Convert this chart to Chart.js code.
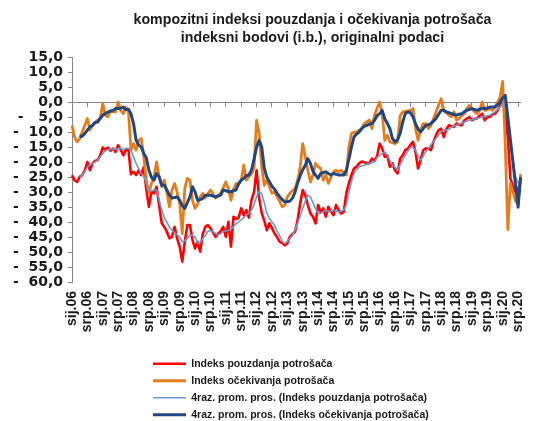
<!DOCTYPE html>
<html><head><meta charset="utf-8">
<script src="https://cdn.jsdelivr.net/npm/chart.js@4.4.0/dist/chart.umd.min.js"></script>
<style>html,body{margin:0;padding:0;background:#fff}canvas{display:block}</style>
</head><body>
<canvas id="c" width="544" height="421"></canvas>
<script>
const monthNames = ['sij','velj','ožu','tra','svi','lip','srp','kol','ruj','lis','stu','pro'];
const years = [2006,2007,2008,2009,2010,2011,2012,2013,2014,2015,2016,2017,2018,2019,2020];
const monthsIn2020 = 8;
const categories = [];
years.forEach(y => {
  const n = (y === 2020) ? monthsIn2020 : 12;
  for (let m = 0; m < n; m++) categories.push(monthNames[m] + '.' + String(y).slice(2));
});

const titleLines = ['kompozitni indeksi pouzdanja i očekivanja potrošača', 'indeksni bodovi (i.b.), originalni podaci'];
const seriesNames = ['Indeks pouzdanja potrošača', 'Indeks očekivanja potrošača',
  '4raz. prom. pros. (Indeks pouzdanja potrošača)', '4raz. prom. pros. (Indeks očekivanja potrošača)'];
const yMin = -60, yMax = 15, yStep = 5;

const pouzdanje = [
-24.3,-26.0,-26.6,-24.9,-24.3,-22.7,-19.9,-22.7,-20.4,-19.6,-19.3,-17.7,
-15.1,-16.0,-15.1,-16.2,-15.4,-16.6,-14.3,-15.8,-17.7,-16.0,-15.8,-24.0,
-23.2,-24.3,-22.7,-24.3,-21.6,-29.3,-34.9,-29.9,-30.4,-28.2,-34.5,-40.4,
-41.6,-43.2,-45.4,-44.9,-41.6,-45.4,-48.2,-53.2,-46.6,-41.0,-41.0,-46.0,
-48.8,-46.6,-49.9,-44.0,-41.6,-41.0,-42.0,-43.5,-44.9,-43.8,-43.0,-41.6,
-44.9,-39.9,-48.2,-38.2,-39.0,-38.5,-35.4,-37.7,-36.0,-38.5,-32.7,-30.0,
-22.7,-32.0,-37.0,-39.5,-42.7,-40.4,-42.0,-43.8,-45.0,-46.6,-47.0,-47.7,
-47.1,-44.9,-44.0,-43.2,-39.3,-33.8,-29.3,-31.0,-34.3,-37.1,-38.2,-40.4,
-34.3,-36.6,-35.4,-38.2,-34.9,-36.5,-37.7,-34.3,-36.0,-37.1,-36.6,-30.4,
-27.0,-24.3,-22.1,-21.5,-20.4,-19.8,-20.0,-20.4,-20.4,-18.8,-19.5,-18.0,
-13.8,-15.5,-18.2,-17.7,-21.6,-20.4,-22.7,-23.8,-18.8,-17.7,-16.0,-15.5,
-14.3,-13.2,-16.6,-22.1,-19.3,-16.0,-15.4,-15.5,-16.0,-13.2,-11.0,-9.3,
-8.8,-11.6,-9.0,-7.7,-8.0,-8.2,-7.1,-7.5,-7.7,-6.0,-5.5,-4.9,
-6.0,-5.5,-5.4,-4.5,-3.8,-6.0,-5.0,-4.9,-4.0,-3.8,-2.7,-1.0,
0.9,-4.0,-11.6,-25.4,-28.0,-30.0,-29.0,-26.0
];
const ocekivanja = [
-7.7,-11.6,-13.2,-12.1,-9.9,-7.7,-5.4,-9.3,-7.7,-6.6,-6.0,-5.4,
-0.4,-4.3,-4.9,-2.7,-3.2,-3.2,0.1,-2.7,-3.8,-1.6,-2.7,-16.0,
-13.8,-16.0,-12.7,-12.1,-18.2,-26.0,-30.4,-27.0,-24.9,-19.9,-24.9,-28.2,
-26.0,-30.0,-34.9,-29.3,-27.1,-30.0,-33.8,-43.8,-28.8,-25.4,-26.0,-32.7,
-35.4,-34.0,-31.6,-30.4,-32.0,-30.5,-29.3,-30.5,-32.0,-31.0,-30.4,-28.5,
-26.6,-28.8,-32.7,-29.0,-27.1,-27.5,-26.0,-21.0,-26.0,-24.9,-23.8,-22.0,
-6.0,-10.4,-21.6,-27.7,-26.0,-28.2,-30.4,-29.9,-31.6,-33.0,-34.9,-34.3,
-31.6,-30.4,-29.5,-28.8,-26.0,-21.6,-13.8,-18.2,-22.7,-26.6,-24.3,-20.4,
-21.5,-22.1,-26.0,-24.3,-27.1,-25.0,-23.2,-22.7,-23.2,-22.7,-23.5,-24.3,
-14.9,-10.4,-10.0,-9.9,-9.3,-8.8,-7.1,-6.5,-6.0,-8.8,-4.3,-2.0,
0.1,-3.8,-12.7,-11.0,-13.2,-13.5,-13.8,-13.2,-4.5,-3.2,-3.0,-2.9,
-2.7,-2.1,-8.8,-12.7,-9.0,-7.1,-7.1,-8.8,-7.7,-5.5,-3.2,-1.0,
1.2,-2.7,-3.5,-4.2,-4.9,-3.2,-6.0,-5.4,-4.5,-3.8,-2.1,-1.0,
-2.2,-3.2,-3.8,-2.7,0.1,-2.7,-2.5,-2.1,-2.7,-1.6,0.0,1.8,
7.0,-14.0,-42.5,-27.0,-30.0,-33.0,-34.0,-24.0
];
const pouzdanjeMA = [
null,null,null,-24.9,-24.3,-23.2,-21.6,-21.0,-20.4,-19.9,-19.3,-18.2,
-17.1,-16.2,-15.8,-15.8,-15.4,-15.8,-15.4,-15.4,-15.8,-15.4,-15.4,-16.0,
-18.2,-20.4,-22.1,-23.8,-24.9,-27.1,-29.3,-29.6,-29.3,-29.3,-32.7,-36.0,
-38.5,-40.0,-41.6,-42.7,-43.5,-44.3,-45.0,-46.6,-46.2,-45.5,-44.3,-44.5,
-44.9,-47.1,-46.8,-45.5,-44.5,-43.0,-42.9,-43.2,-43.8,-44.3,-43.8,-43.2,
-43.0,-42.7,-42.3,-41.5,-40.5,-40.0,-39.3,-38.5,-37.7,-37.1,-36.0,-34.3,
-31.5,-29.8,-30.4,-33.5,-37.0,-38.8,-40.0,-41.0,-43.0,-44.5,-46.4,-47.1,
-46.5,-45.5,-44.5,-42.5,-40.4,-38.0,-35.5,-33.0,-31.0,-31.6,-33.5,-35.5,
-37.1,-37.1,-36.5,-36.0,-36.6,-36.3,-36.0,-36.3,-36.6,-36.3,-36.0,-34.3,
-30.0,-26.5,-23.8,-22.5,-21.6,-21.3,-21.0,-20.7,-20.4,-20.2,-19.9,-18.5,
-17.7,-17.0,-16.6,-17.5,-19.5,-21.0,-21.6,-22.7,-20.8,-19.2,-17.7,-16.3,
-15.2,-15.0,-16.0,-18.0,-19.3,-18.0,-16.5,-15.4,-14.3,-13.2,-12.0,-11.0,
-9.8,-9.3,-9.3,-9.0,-8.4,-8.0,-7.7,-7.3,-7.0,-6.6,-6.3,-6.0,
-5.8,-5.6,-5.4,-5.2,-4.9,-4.7,-4.5,-4.3,-3.8,-3.2,-2.4,-1.6,
-0.3,-1.5,-6.0,-12.0,-19.0,-25.0,-27.0,-27.0
];
const ocekivanjaMA = [
null,null,null,-11.6,-11.3,-10.4,-9.3,-8.2,-7.7,-6.8,-6.6,-5.4,
-4.3,-3.8,-3.2,-3.0,-2.7,-2.1,-2.1,-2.0,-1.6,-2.5,-2.3,-3.8,
-7.1,-12.7,-14.3,-14.9,-17.1,-18.5,-22.7,-25.0,-26.0,-23.8,-24.9,-27.7,
-27.7,-29.3,-31.0,-32.0,-31.8,-31.6,-32.7,-34.5,-35.4,-33.5,-31.6,-28.2,
-29.9,-32.7,-32.5,-32.1,-31.0,-31.0,-31.0,-31.3,-31.6,-31.3,-31.0,-29.3,
-29.5,-29.9,-29.9,-29.5,-29.3,-27.1,-26.0,-25.4,-24.5,-24.3,-22.7,-19.0,
-15.0,-12.7,-14.9,-22.0,-25.0,-26.5,-28.0,-29.0,-30.4,-31.5,-32.5,-33.2,
-33.2,-33.0,-32.0,-30.0,-27.0,-24.5,-22.5,-21.0,-18.8,-20.4,-23.0,-24.3,
-25.4,-23.8,-23.5,-23.2,-23.8,-24.3,-23.8,-24.0,-24.3,-24.3,-24.3,-22.7,
-19.0,-15.0,-11.6,-10.6,-10.0,-8.8,-8.0,-7.7,-7.3,-7.1,-6.0,-4.5,
-3.8,-2.7,-5.5,-7.0,-8.8,-12.1,-13.2,-12.5,-10.4,-6.6,-3.8,-3.2,
-3.5,-4.9,-7.1,-9.0,-9.9,-8.8,-7.7,-7.5,-7.1,-6.3,-5.4,-4.0,
-2.7,-2.7,-3.2,-3.5,-3.8,-4.1,-4.3,-4.0,-3.8,-3.2,-2.7,-2.4,
-2.1,-2.4,-2.7,-2.3,-2.1,-2.1,-1.9,-1.6,-1.6,-1.6,-0.8,0.1,
1.5,2.3,-5.0,-12.5,-20.0,-27.5,-35.0,-25.0
];

const axisGray = '#868686';
const textColor = '#1a1a1a';

function yLabel(v) {
  const a = Math.abs(v).toFixed(1).replace('.', ',');
  if (v < 0) return '-' + (Math.abs(v) < 10 ? '   ' : '  ') + a;
  return a;
}

const placeBoxes = {
  id: 'placeBoxes',
  afterLayout(chart) {
    const lg = chart.legend;
    if (lg) {
      const pad = lg.options.labels.padding;
      lg.left = 153 - pad; lg.width = 400; lg.right = lg.left + 400;
      lg.top = 364 - pad - 5.5; lg.height = 140; lg.bottom = lg.top + 140;
    }
    const t = chart.titleBlock;
    if (t) {
      t.left = 81; t.right = 544; t.width = 463;
    }
  }
};

const common = { pointRadius: 0, pointHoverRadius: 0, tension: 0, fill: false, borderJoinStyle: 'round', spanGaps: false };

new Chart(document.getElementById('c'), {
  type: 'line',
  data: {
    labels: categories,
    datasets: [
      Object.assign({ label: seriesNames[0], data: pouzdanje, borderColor: '#FF0000', backgroundColor: '#FF0000', borderWidth: 2.6, order: 4 }, common),
      Object.assign({ label: seriesNames[1], data: ocekivanja, borderColor: '#E47D1E', backgroundColor: '#E47D1E', borderWidth: 2.8, order: 3 }, common),
      Object.assign({ label: seriesNames[2], data: pouzdanjeMA, borderColor: '#6E98D0', backgroundColor: '#6E98D0', borderWidth: 1.6, order: 2 }, common),
      Object.assign({ label: seriesNames[3], data: ocekivanjaMA, borderColor: '#22467F', backgroundColor: '#22467F', borderWidth: 3, order: 1 }, common)
    ]
  },
  plugins: [placeBoxes],
  options: {
    responsive: false,
    animation: false,
    devicePixelRatio: 1,
    layout: { padding: { left: 0, right: 4, top: 0, bottom: 79 } },
    plugins: {
      title: {
        display: true, text: titleLines, fullSize: false, color: textColor,
        font: { family: "'Liberation Sans', Arial, sans-serif", size: 14.2, weight: 'bold', lineHeight: 1.28 },
        padding: { top: 11, bottom: 10 }
      },
      legend: {
        position: 'chartArea', align: 'start',
        labels: {
          usePointStyle: true, pointStyle: 'line', pointStyleWidth: 33,
          color: textColor, padding: 6.5,
          font: { family: "'Liberation Sans', Arial, sans-serif", size: 10.5, weight: 'bold' },
          sort: (a, b) => a.datasetIndex - b.datasetIndex
        }
      },
      tooltip: { enabled: false }
    },
    scales: {
      x: {
        type: 'category', position: 'bottom', offset: false,
        grid: { display: false, drawTicks: false },
        border: { display: false },
        ticks: {
          autoSkip: false, maxRotation: 90, minRotation: 90, padding: 9, color: textColor,
          font: { family: "'Liberation Sans', Arial, sans-serif", size: 14, weight: 'bold' },
          callback: function (v, i) { return i % 6 === 0 ? this.getLabelForValue(v) : null; }
        },
        afterFit: s => { s.height = 60; }
      },
      x0: {
        type: 'category', position: { y: 0 }, offset: false,
        ticks: { display: false, autoSkip: false },
        grid: { display: true, drawOnChartArea: false, drawTicks: true, tickLength: 4,
          color: ctx => (ctx.index % 6 === 0 ? axisGray : 'rgba(0,0,0,0)'), lineWidth: 1 },
        border: { display: true, color: axisGray, width: 1 }
      },
      y: {
        position: 'left', min: yMin, max: yMax,
        ticks: {
          stepSize: yStep, autoSkip: false, padding: 5, color: textColor,
          font: { family: "'DejaVu Sans', Verdana, sans-serif", size: 14, weight: 'bold' },
          callback: v => yLabel(v)
        },
        grid: { drawOnChartArea: false, drawTicks: true, tickLength: 4, color: axisGray },
        border: { display: true, color: axisGray, width: 1 },
        afterFit: s => { s.width = 72; }
      }
    }
  }
});
</script>
</body></html>
